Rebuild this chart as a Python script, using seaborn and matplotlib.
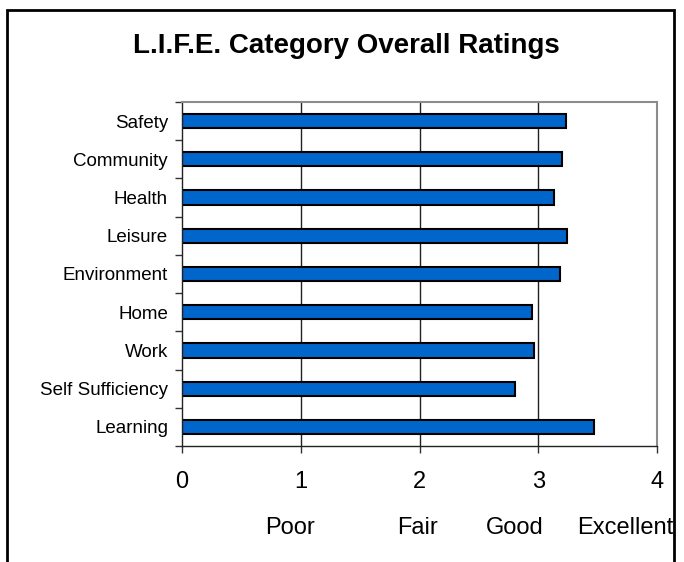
import matplotlib
matplotlib.use("Agg")
import matplotlib.pyplot as plt
import matplotlib.transforms as mtransforms
from matplotlib.patches import Rectangle
import seaborn as sns
import pandas as pd

categories = ["Safety", "Community", "Health", "Leisure", "Environment",
              "Home", "Work", "Self Sufficiency", "Learning"]
ratings = [3.23, 3.20, 3.13, 3.24, 3.18, 2.95, 2.96, 2.80, 3.47]
x_ticks = [0, 1, 2, 3, 4]
scale_names = ["Poor", "Fair", "Good", "Excellent"]
scale_pos = [0.91, 1.98, 2.80, 3.73]

df = pd.DataFrame({"category": categories, "rating": ratings})

sns.set_style("white")
plt.rcParams["font.family"] = ["Liberation Sans", "DejaVu Sans"]
plt.rcParams["text.color"] = "black"
plt.rcParams["xtick.color"] = "black"
plt.rcParams["ytick.color"] = "black"

fig = plt.figure(figsize=(6.84, 5.62), dpi=100)
ax = fig.add_axes([182 / 684, 1 - 446 / 562, (657 - 182) / 684, (446 - 102) / 562])

sns.barplot(data=df, x="rating", y="category", orient="h", color="#0066CC",
            edgecolor="black", linewidth=1.5, width=0.37, saturation=1, ax=ax)

ax.set_xlim(0, 4)
ax.set_ylim(len(categories) - 0.5, -0.5)
ax.set_xticks(x_ticks)
ax.set_xticklabels([str(t) for t in x_ticks], fontsize=17)
ax.set_yticks(range(len(categories)))
ax.set_yticklabels(categories, fontsize=13.5)
ax.set_yticks([i - 0.5 for i in range(len(categories) + 1)], minor=True)
ax.set_xlabel("")
ax.set_ylabel("")

# vertical gridlines behind bars
for t in x_ticks[1:-1]:
    ax.axvline(t, color="#222222", lw=1, zorder=0)

ax.tick_params(axis="y", which="major", length=0, pad=10)
ax.tick_params(axis="y", which="minor", length=5, width=1, color="#333333",
               direction="out", left=True)
ax.tick_params(axis="x", length=5, width=1, color="#333333", direction="out",
               bottom=True, pad=13)

for side in ["top", "right"]:
    ax.spines[side].set_color("#8c8c8c")
    ax.spines[side].set_linewidth(1.5)
for side in ["left", "bottom"]:
    ax.spines[side].set_color("#222222")
    ax.spines[side].set_linewidth(1)

# rating words under the axis
trans = mtransforms.blended_transform_factory(ax.transData, ax.transAxes)
for name, pos in zip(scale_names, scale_pos):
    ax.text(pos, -0.237, name, transform=trans, ha="center", va="center",
            fontsize=17, clip_on=False)

fig.text(346 / 684, 1 - 46 / 562, "L.I.F.E. Category Overall Ratings",
         ha="center", va="center", fontsize=20, fontweight="bold")

# chart frame
fig.patches.append(Rectangle((7 / 684, -0.05), (674 - 7) / 684, 1.05 - 10 / 562,
                             transform=fig.transFigure, fill=False,
                             edgecolor="black", linewidth=2))

fig.savefig("out.png", dpi=100)
